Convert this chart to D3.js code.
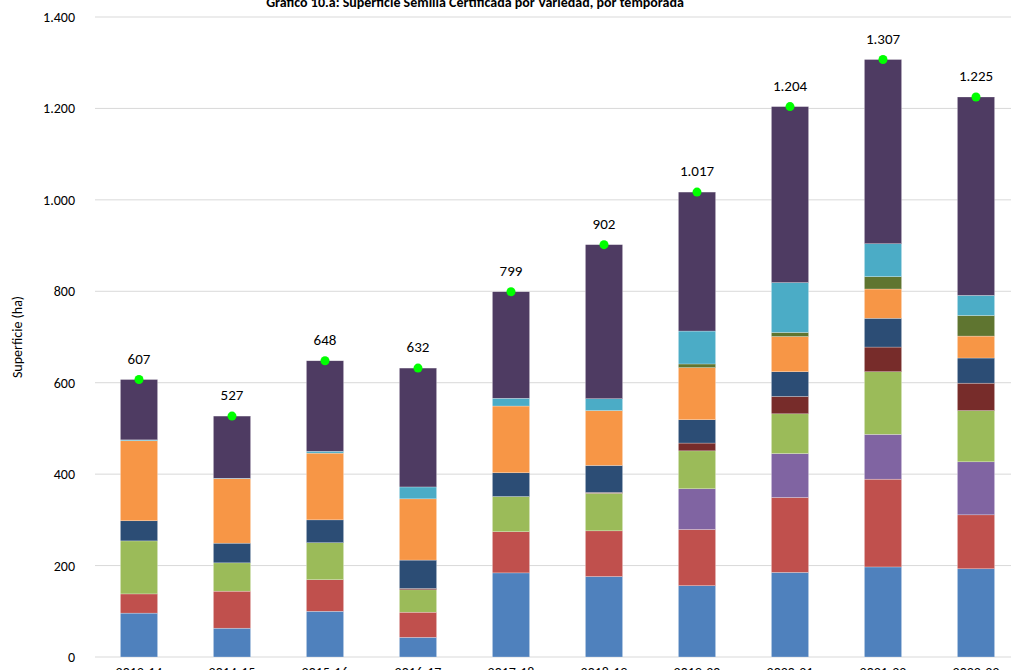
<!DOCTYPE html>
<html><head><meta charset="utf-8">
<script src="https://cdn.jsdelivr.net/npm/d3@7"></script>
<style>body{margin:0;background:#fff;font-family:Calibri,Carlito,"Liberation Sans",sans-serif}</style>
</head><body><div id="chart"></div>
<script>
// temporadas
var seasons = ["2013-14","2014-15","2015-16","2016-17","2017-18","2018-19","2019-20","2020-21","2021-22","2022-23"];
var serie1 = [96,63,100,43,184,176,156,185,197,193];
var serie2 = [42,81,69,55,90,100,123,164,192,118];
var serie3 = [0,0,0,0,0,0,89,96,98,116];
var serie4 = [116,62,81,49,77,82,83,87,137,112];
var serie5 = [0,0,0,3,0,2,17,38,54,60];
var serie6 = [44,43,50,62,52,59,51,54,63,55];
var serie7 = [175,141,146,134,146,120,114,77,64,48];
var serie8 = [0,0,0,0,0,0,8,9,27,45];
var serie9 = [2,1,4,26,17,26,72,109,72,44];
var serie10 = [132,136,198,260,233,337,304,385,403,434];
var totals = [607,527,648,632,799,902,1017,1204,1307,1225];
var yTicks = [0,200,400,600,800,1000,1200,1400];

var series = [serie1,serie2,serie3,serie4,serie5,serie6,serie7,serie8,serie9,serie10];
var colors = ["#4f81bd","#c0504d","#8064a2","#9bbb59","#772c2a","#2c4d75","#f79646","#5f7530","#4bacc6","#4e3b62"];

var width = 1011, height = 670;
var svg = d3.select("#chart").append("svg").attr("width", width).attr("height", height);

var x = d3.scaleBand().domain(seasons).range([92.5, 1022.5]).paddingInner(0.6).paddingOuter(0.3);
var y = d3.scaleLinear().domain([0, 1400]).range([657, 17]);

// grid
svg.append("g").selectAll("line").data(yTicks).enter().append("line")
    .attr("x1", 95).attr("x2", width)
    .attr("y1", function(d) { return y(d); }).attr("y2", function(d) { return y(d); })
    .attr("stroke", "#d9d9d9").attr("stroke-width", 1);

svg.append("g").selectAll("text").data(yTicks).enter().append("text")
    .attr("x", 75).attr("y", function(d) { return y(d) + 5; })
    .attr("text-anchor", "end").attr("font-size", "14px").attr("fill", "#000")
    .text(function(d) { return d3.format(",")(d).replace(/,/g, "."); });

svg.append("text").attr("transform", "translate(22," + y(700) + ") rotate(-90)")
    .attr("text-anchor", "middle").attr("font-size", "14px").text("Superficie (ha)");

// stacked bars
var rows = seasons.map(function(s, i) {
    var r = {season: s};
    series.forEach(function(arr, k) { r["s" + k] = arr[i]; });
    return r;
});
var stack = d3.stack().keys(series.map(function(a, k) { return "s" + k; }))(rows);

svg.append("g").selectAll("g").data(stack).enter().append("g")
    .attr("fill", function(d, k) { return colors[k]; })
    .selectAll("rect").data(function(d) { return d; }).enter().append("rect")
    .attr("x", function(d) { return x(d.data.season); })
    .attr("width", x.bandwidth())
    .attr("y", function(d) { return y(d[1]); })
    .attr("height", function(d) { return y(d[0]) - y(d[1]); })
    .attr("stroke", "#ffffff").attr("stroke-width", 0.5).attr("stroke-opacity", 0.5);

// totals
svg.append("g").selectAll("circle").data(totals).enter().append("circle")
    .attr("cx", function(d, i) { return x(seasons[i]) + x.bandwidth() / 2; })
    .attr("cy", function(d) { return y(d); })
    .attr("r", 4.5).attr("fill", "#00ff00");
svg.append("g").selectAll("text").data(totals).enter().append("text")
    .attr("x", function(d, i) { return x(seasons[i]) + x.bandwidth() / 2; })
    .attr("y", function(d) { return y(d) - 16; })
    .attr("text-anchor", "middle").attr("font-size", "15px")
    .text(function(d) { return d3.format(",")(d).replace(/,/g, "."); });

// x labels
svg.append("g").selectAll("text").data(seasons).enter().append("text")
    .attr("x", function(d) { return x(d) + x.bandwidth() / 2; })
    .attr("y", 677).attr("text-anchor", "middle").attr("font-size", "14px")
    .text(function(d) { return d; });

svg.append("text").attr("x", 475).attr("y", 7).attr("text-anchor", "middle")
    .attr("font-size", "14px").attr("font-weight", "bold")
    .text("Gráfico 10.a: Superficie Semilla Certificada por Variedad, por temporada");
</script>
</body></html>
